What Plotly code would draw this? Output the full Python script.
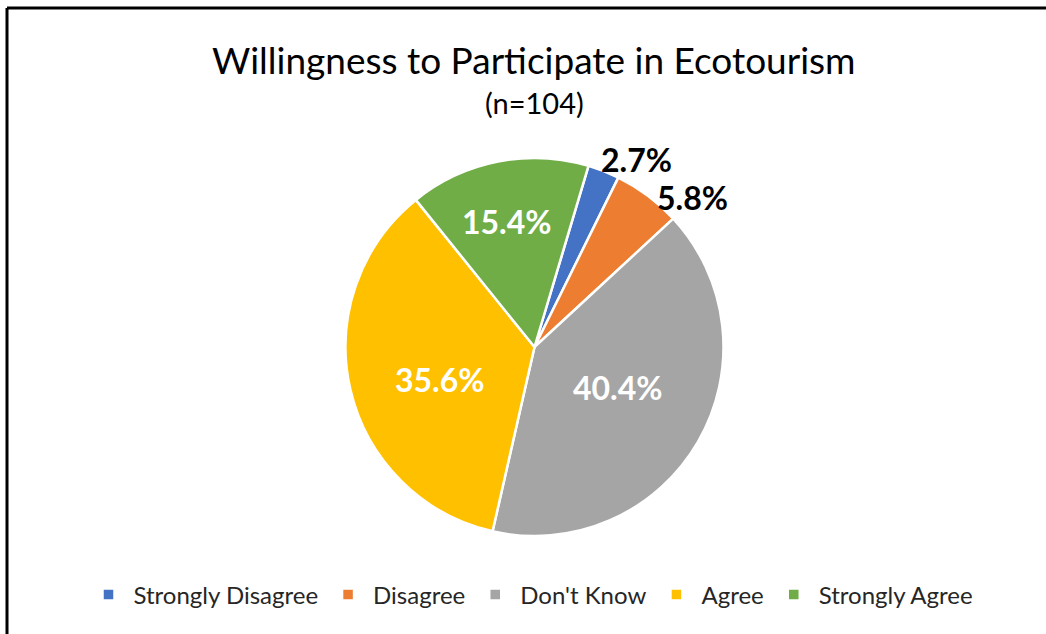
import math
import plotly.graph_objects as go

# Survey responses (share of respondents, %)
categories = ["Strongly Disagree", "Disagree", "Don't Know", "Agree", "Strongly Agree"]
shares = [2.7, 5.8, 40.4, 35.6, 15.4]
colors = ["#4472C4", "#ED7D31", "#A5A5A5", "#FFC000", "#70AD47"]

# label placement: distance from the centre (fraction of radius) and angular nudge (deg)
label_radius = [1.13, 1.15, 0.49, 0.53, 0.68]
label_nudge = [7.0, 9.7, -4.0, -6.0, -1.0]
label_colors = ["black", "black", "white", "white", "white"]

W, H = 1046, 634
FONT = "Lato"
START_ANGLE = 16.6  # first slice begins this many degrees clockwise from 12 o'clock

# pie placement in pixels
cx, cy, r = 534.5, 347, 189

fig = go.Figure(
    go.Pie(
        labels=categories,
        values=shares,
        sort=False,
        direction="clockwise",
        rotation=START_ANGLE,
        marker=dict(colors=colors, line=dict(color="white", width=2.5)),
        textinfo="none",
        hoverinfo="label+value",
        domain=dict(
            x=[(cx - r) / W, (cx + r) / W],
            y=[1 - (cy + r) / H, 1 - (cy - r) / H],
        ),
        automargin=False,
    )
)

# percentage labels positioned at each slice's mid-angle
annotations = []
total = sum(shares)
cum = 0.0
for val, rad, nudge, col in zip(shares, label_radius, label_nudge, label_colors):
    mid = START_ANGLE + (cum + val / 2) / total * 360 + nudge
    cum += val
    a = math.radians(mid)
    px = cx + rad * r * math.sin(a)
    py = cy - rad * r * math.cos(a)
    annotations.append(dict(
        text=f"{val:.1f}%",
        x=px / W, y=1 - py / H, xref="paper", yref="paper",
        xanchor="center", yanchor="middle", showarrow=False,
        font=dict(family=FONT, size=32, color=col, weight="bold"),
    ))

annotations += [
    dict(
        text="Willingness to Participate in Ecotourism",
        x=534 / W, y=1 - 60 / H, xref="paper", yref="paper",
        xanchor="center", yanchor="middle", showarrow=False,
        font=dict(family=FONT, size=37, color="black"),
    ),
    dict(
        text="(n=104)",
        x=534 / W, y=1 - 102 / H, xref="paper", yref="paper",
        xanchor="center", yanchor="middle", showarrow=False,
        font=dict(family=FONT, size=29, color="black"),
    ),
]

fig.update_layout(
    width=W,
    height=H,
    margin=dict(l=0, r=0, t=0, b=0),
    paper_bgcolor="white",
    plot_bgcolor="white",
    font=dict(family=FONT, color="black"),
    showlegend=True,
    legend=dict(
        orientation="h",
        x=531 / W,
        xanchor="center",
        y=1 - 595 / H,
        yanchor="middle",
        font=dict(family=FONT, size=24, color="#262626"),
        itemwidth=40,
        traceorder="normal",
    ),
    annotations=annotations,
    shapes=[
        # frame around the chart (top and left edges)
        dict(type="line", xref="paper", yref="paper",
             x0=7 / W, x1=1, y0=1 - 8 / H, y1=1 - 8 / H,
             line=dict(color="black", width=3)),
        dict(type="line", xref="paper", yref="paper",
             x0=7 / W, x1=7 / W, y0=0, y1=1 - 8 / H,
             line=dict(color="black", width=3)),
    ],
)

fig.write_html("out.html")
